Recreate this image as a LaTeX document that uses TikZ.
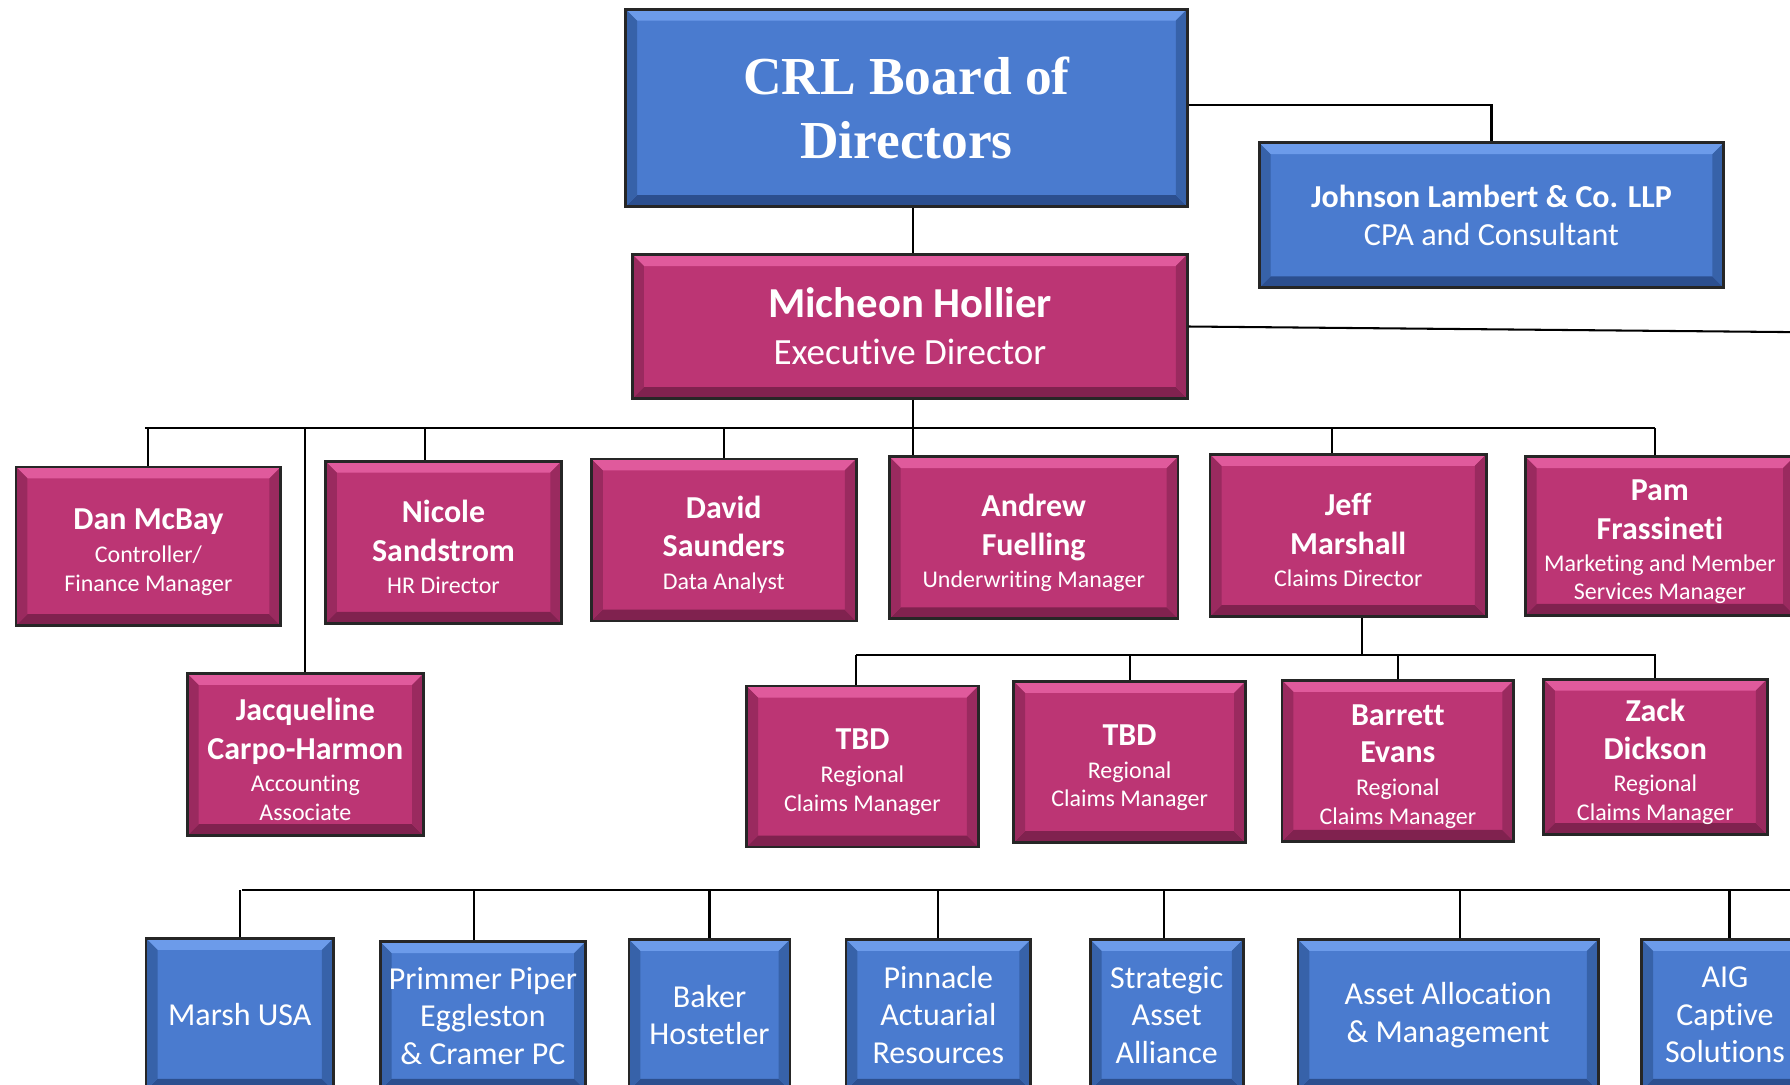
\documentclass[tikz,border=0pt]{standalone}
\usepackage{fontspec}
\setmainfont{Carlito}[Ligatures=CommonOff]
\newfontfamily\tnr{Liberation Serif}
\usetikzlibrary{calc}
\newcommand\Rl{\fontsize{10.5}{12.5}\selectfont}
\newcommand\Nm{\fontsize{14}{17}\selectfont\bfseries}
\newcommand\Fs{\rule{0pt}{14pt}}
\newcommand\bx[7]{\node[#6, minimum width={(#4-#2)*0.5pt}, minimum height={(#5-#3)*0.5pt}] (#1) at ({(#2+#4)/2},{(#3+#5)/2}) {#7};}
\definecolor{pinkM}{HTML}{BC3574}
\definecolor{pinkT}{HTML}{E05A9C}
\definecolor{pinkB}{HTML}{80224F}
\definecolor{pinkS}{HTML}{9A2A5F}
\definecolor{blueM}{HTML}{4A7BCF}
\definecolor{blueT}{HTML}{6C9BEA}
\definecolor{blueB}{HTML}{2C4F8F}
\definecolor{blueS}{HTML}{3762A9}
\tikzset{
  bev/.style n args={4}{fill=#1, draw=black!85, line width=1.2pt,
    path picture={
      \fill[#2] (path picture bounding box.north west) -- (path picture bounding box.north east)
        -- ([xshift=-5pt,yshift=-5pt]path picture bounding box.north east)
        -- ([xshift=5pt,yshift=-5pt]path picture bounding box.north west) -- cycle;
      \fill[#3] (path picture bounding box.south west) -- (path picture bounding box.south east)
        -- ([xshift=-5pt,yshift=5pt]path picture bounding box.south east)
        -- ([xshift=5pt,yshift=5pt]path picture bounding box.south west) -- cycle;
      \fill[#4] (path picture bounding box.north west) -- ([xshift=5pt,yshift=-5pt]path picture bounding box.north west)
        -- ([xshift=5pt,yshift=5pt]path picture bounding box.south west) -- (path picture bounding box.south west) -- cycle;
      \fill[#4] (path picture bounding box.north east) -- ([xshift=-5pt,yshift=-5pt]path picture bounding box.north east)
        -- ([xshift=-5pt,yshift=5pt]path picture bounding box.south east) -- (path picture bounding box.south east) -- cycle;
    }},
  pbox/.style={bev={pinkM}{pinkT}{pinkB}{pinkS}, text=white, align=center, inner sep=0pt,
    font={\Rl\lineskiplimit=-50pt\lineskip=0pt}},
  bbox/.style={bev={blueM}{blueT}{blueB}{blueS}, text=white, align=center, inner sep=0pt,
    font={\fontsize{14}{16.5}\selectfont\lineskiplimit=-50pt\lineskip=0pt}},
  conn/.style={draw=black, line width=0.9pt}
}
\begin{document}
\begin{tikzpicture}[x=0.5pt, y=-0.5pt]
\useasboundingbox (0,0) rectangle (1568,950);
\clip (0,0) rectangle (1568,950);
\fill[white] (0,0) rectangle (1568,950);
% boxes
\bx{board}{548}{8}{1040}{181}{bbox, font={\tnr\fontsize{23.4}{28}\selectfont\bfseries\lineskiplimit=-50pt}}{CRL Board of\\Directors}
\bx{jl}{1103}{125}{1510}{252}{bbox, font={\fontsize{14.1}{16.5}\selectfont\lineskiplimit=-50pt}}{{\fontsize{14}{16.5}\selectfont\bfseries Johnson Lambert \& Co. LLP}\\CPA and Consultant}
\bx{mich}{554}{223}{1040}{349}{pbox, font={\fontsize{16.2}{20.5}\selectfont\lineskiplimit=-50pt}}{{\fontsize{18.7}{20.5}\selectfont\bfseries Micheon Hollier}\\Executive Director}
\bx{dan}{14}{409}{246}{548}{pbox}{{\Nm\Fs Dan McBay}\\[2pt]Controller/\\Finance Manager}
\bx{nic}{285}{404}{492}{546}{pbox}{{\Nm\Fs Nicole}\\[4.5pt]{\Nm Sandstrom}\\[1.5pt]HR Director}
\bx{dav}{518}{402}{750}{544}{pbox}{{\Nm\Fs David}\\[4pt]{\Nm Saunders}\\[2pt]Data Analyst}
\bx{and}{779}{400}{1032}{542}{pbox}{{\Nm\Fs Andrew}\\[4.5pt]{\Nm Fuelling}\\[1.5pt]Underwriting Manager}
\bx{jeff}{1060}{398}{1302}{540}{pbox}{{\Nm\Fs Jeff}\\[4.5pt]{\Nm Marshall}\\[1.5pt]Claims Director}
\bx{pam}{1336}{400}{1572}{539}{pbox}{{\Nm\Fs Pam}\\[4.5pt]{\Nm Frassineti}\\[1.5pt]Marketing and Member\\Services Manager}
\bx{jac}{164}{590}{371}{732}{pbox}{{\Nm\Fs Jacqueline}\\[4.5pt]{\Nm Carpo-Harmon}\\[1.5pt]Accounting\\Associate}
\bx{tbda}{654}{601}{857}{742}{pbox}{{\Nm\Fs TBD}\\[2pt]Regional\\Claims Manager}
\bx{tbdb}{888}{597}{1091}{738}{pbox}{{\Nm\Fs TBD}\\[2pt]Regional\\Claims Manager}
\bx{bar}{1123}{596}{1326}{737}{pbox}{{\Nm\Fs Barrett}\\[4pt]{\Nm Evans}\\[2pt]Regional\\Claims Manager}
\bx{zak}{1352}{595}{1548}{731}{pbox}{{\Nm\Fs Zack}\\[4.5pt]{\Nm Dickson}\\[1.5pt]Regional\\Claims Manager}
\bx{marsh}{128}{822}{292}{955}{bbox}{Marsh USA}
\bx{prim}{333}{825}{513}{955}{bbox}{Primmer Piper\\Eggleston\\\& Cramer PC}
\bx{bak}{551}{823}{692}{955}{bbox}{Baker\\Hostetler}
\bx{pin}{741}{823}{903}{955}{bbox}{Pinnacle\\Actuarial\\Resources}
\bx{str}{955}{823}{1089}{955}{bbox}{Strategic\\Asset\\Alliance}
\bx{aam}{1137}{823}{1400}{955}{bbox}{Asset Allocation\\\& Management}
\bx{aig}{1438}{823}{1584}{955}{bbox}{AIG\\Captive\\Solutions}
% coordinates
\coordinate (medge) at (1580,291);
\coordinate (busL) at (127,375);
\coordinate (busR) at (1450,375);
\coordinate (jbL) at (750,574);
\coordinate (jbR) at (1451,574);
\coordinate (bbL) at (212,780);
\coordinate (bbR) at (1580,780);
% connectors
\draw[conn] ([yshift=1.25pt]board.east) -| (jl.north);
\draw[conn] ([xshift=1.5pt]mich.north) -- ([xshift=1.5pt]mich.north |- board.south);
\draw[conn] (mich.east) -- (medge);
\draw[conn] (busL) -- (busR);
\draw[conn] ([xshift=1.5pt]mich.south) -- ([xshift=1.5pt]mich.south |- and.north);
\draw[conn] (dan.north) -- (dan.north |- busL);
\draw[conn] (jac.north) -- (jac.north |- busL);
\draw[conn] ([xshift=-8.25pt]nic.north) -- ([xshift=-8.25pt]nic.north |- busL);
\draw[conn] (dav.north) -- (dav.north |- busL);
\draw[conn] ([xshift=-7pt]jeff.north) -- ([xshift=-7pt]jeff.north |- busL);
\draw[conn] ([xshift=-2pt]pam.north) -- ([xshift=-2pt]pam.north |- busL);
\draw[conn] ([xshift=6pt]jeff.south) -- ([xshift=6pt]jeff.south |- jbL);
\draw[conn] (jbL) -- (jbR);
\draw[conn] ([xshift=-2.75pt]tbda.north) -- ([xshift=-2.75pt]tbda.north |- jbL);
\draw[conn] (tbdb.north) -- (tbdb.north |- jbL);
\draw[conn] (bar.north) -- (bar.north |- jbL);
\draw[conn] (zak.north) -- (zak.north |- jbL);
\draw[conn] (bbL) -- (bbR);
\draw[conn] (marsh.north) -- (marsh.north |- bbL);
\draw[conn] ([xshift=-4pt]prim.north) -- ([xshift=-4pt]prim.north |- bbL);
\draw[conn] (bak.north) -- (bak.north |- bbL);
\draw[conn] (pin.north) -- (pin.north |- bbL);
\draw[conn] ([xshift=-1pt]str.north) -- ([xshift=-1pt]str.north |- bbL);
\draw[conn] ([xshift=5.25pt]aam.north) -- ([xshift=5.25pt]aam.north |- bbL);
\draw[conn] ([xshift=2pt]aig.north) -- ([xshift=2pt]aig.north |- bbL);
\end{tikzpicture}
\end{document}
